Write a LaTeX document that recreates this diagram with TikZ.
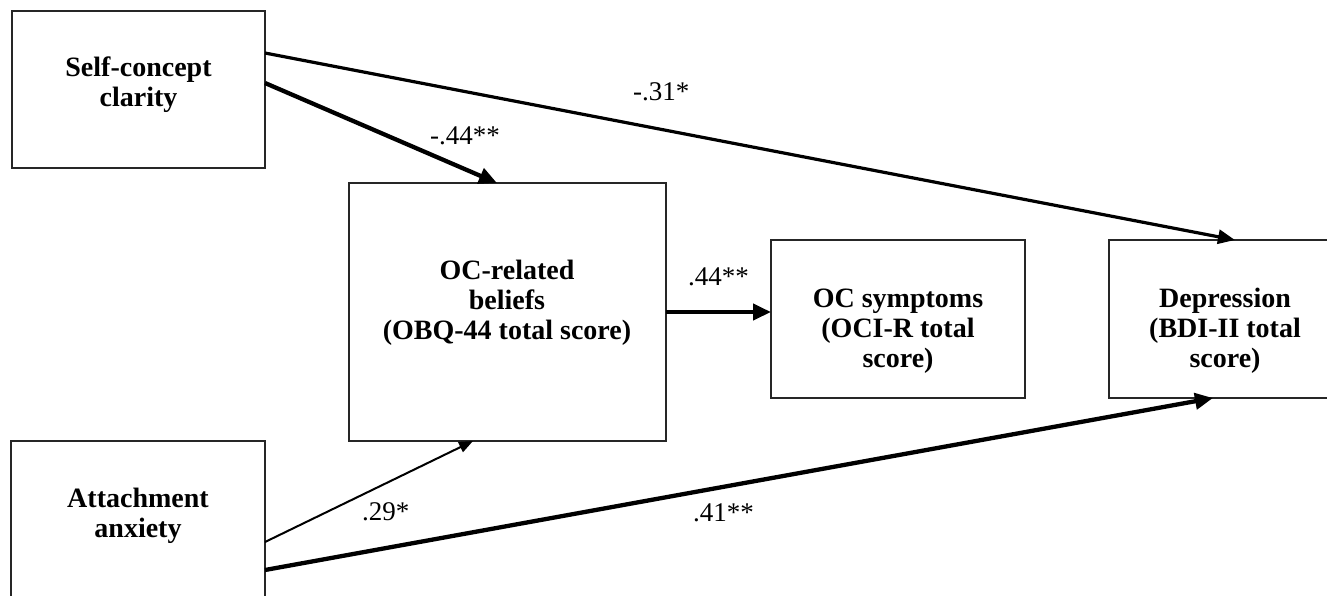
\documentclass[tikz,border=0pt]{standalone}
\usepackage{fontspec}
\setmainfont{Liberation Serif}
\usetikzlibrary{arrows.meta}
\tikzset{
  box/.style={draw=black!85, line width=1.6pt, inner sep=0pt, outer sep=0pt},
  boxtext/.style={font=\fontsize{28}{30}\selectfont\bfseries, align=center, anchor=base, inner sep=0pt},
  coef/.style={font=\fontsize{27}{30}\selectfont, anchor=base west, inner sep=0pt},
  thinarrow/.style={line width=2pt, -{Triangle[length=14pt,width=11pt]}},
  midarrow/.style={line width=3.2pt, -{Triangle[length=17pt,width=14pt]}},
  thickarrow/.style={line width=4.3pt, -{Triangle[length=18pt,width=16pt]}},
}
\begin{document}
\begin{tikzpicture}[x=1pt,y=-1pt]
\useasboundingbox (0,0) rectangle (1327,595);
\fill[white] (0,0) rectangle (1327,595);
\begin{scope}
\clip (0,0) rectangle (1327,595);
% boxes
\node[box, minimum width=253pt, minimum height=157pt] (sc) at (138.5,89.5) {};
\node[box, minimum width=317pt, minimum height=258pt] (ocb) at (507.5,312) {};
\node[box, minimum width=254pt, minimum height=158pt] (ocs) at (898,319) {};
\node[box, minimum width=232pt, minimum height=158pt] (dep) at (1225,319) {};
\node[box, minimum width=254pt, minimum height=157pt] (att) at (138,519.5) {};
% box texts (base anchor = baseline of last line)
\node[boxtext] (sct) at (138.5,106) {Self-concept\\clarity};
\node[boxtext] (ocbt) at (507,339) {OC-related\\beliefs\\(OBQ-44 total score)};
\node[boxtext] (ocst) at (898,367) {OC symptoms\\(OCI-R total\\score)};
\node[boxtext] (dept) at (1225,367) {Depression\\(BDI-II total\\score)};
\node[boxtext] (attt) at (138,537) {Attachment\\anxiety};
% connectors
\draw[midarrow] (sc.east |- 0,53) -- (dep.north -| 1235,0);
\draw[thickarrow] (sc.east |- 0,83) -- (ocb.north -| 497,0);
\draw[thickarrow] (ocb.east |- 0,312) -- (ocs.west |- 0,312);
\draw[thinarrow] (att.east |- 0,542) -- (ocb.south -| 473,0);
\draw[thickarrow] (att.east |- 0,570) -- (dep.south -| 1213,0);
% coefficients
\node[coef] (c1) at (633,100) {-.31*};
\node[coef] (c2) at (430,144) {-.44**};
\node[coef] (c3) at (688,285) {.44**};
\node[coef] (c4) at (362,520) {.29*};
\node[coef] (c5) at (693,521) {.41**};
\end{scope}
\end{tikzpicture}
\end{document}
